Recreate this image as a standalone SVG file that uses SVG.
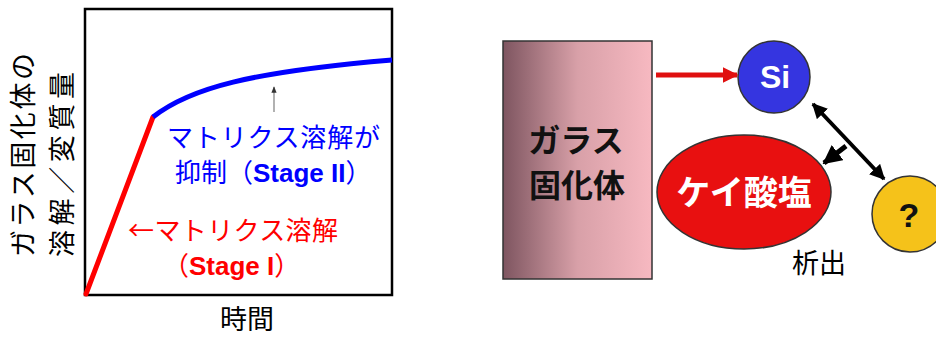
<svg xmlns="http://www.w3.org/2000/svg" width="936" height="338" viewBox="0 0 936 338">
<defs>
<linearGradient id="glassGrad" x1="0" y1="0" x2="1" y2="0">
<stop offset="0" stop-color="#7e5560"/>
<stop offset="0.5" stop-color="#d8a0a8"/>
<stop offset="1" stop-color="#f7b9c1"/>
</linearGradient>
<marker id="redHead" viewBox="0 0 10 10" refX="9" refY="5" markerWidth="3.2" markerHeight="3.2" orient="auto" markerUnits="strokeWidth">
<path d="M0,0 L10,5 L0,10 z" fill="#e01010"/>
</marker>
<marker id="blackHead" viewBox="0 0 10 10" refX="9" refY="5" markerWidth="3.8" markerHeight="3.8" orient="auto-start-reverse" markerUnits="strokeWidth">
<path d="M0,0 L10,5 L0,10 z" fill="#000"/>
</marker>
<marker id="grayHead" viewBox="0 0 10 10" refX="9" refY="5" markerWidth="5" markerHeight="5" orient="auto" markerUnits="strokeWidth">
<path d="M0,1 L10,5 L0,9 z" fill="#333"/>
</marker>
</defs>
<style>
.jp{font-family:"Noto Sans CJK JP","Liberation Sans",sans-serif;}
.lbl{font-size:27px;fill:#000;}
.blue{fill:#0000ff;font-size:26px;}
.red{fill:#ff0000;font-size:26px;}
.bold{font-weight:bold;}
.node{stroke:#333;stroke-width:1.5;}
</style>
<rect width="936" height="338" fill="#fff"/>

<g id="plot">
<rect x="85" y="9" width="307" height="286" fill="none" stroke="#000" stroke-width="2.5"/>
<line x1="86" y1="294" x2="153" y2="117" stroke="#ff0000" stroke-width="5" stroke-linecap="round"/>
<path d="M153,117 C190,88 250,72 392,60" fill="none" stroke="#0000ff" stroke-width="5"/>
<line x1="274" y1="112" x2="274" y2="87" stroke="#888" stroke-width="1.3" marker-end="url(#grayHead)"/>
<text class="jp lbl" transform="translate(33,257) rotate(-90)" font-size="28" textLength="204" lengthAdjust="spacing">ガラス固化体の</text>
<text class="jp lbl" transform="translate(72,257) rotate(-90)" font-size="28" textLength="185" lengthAdjust="spacing">溶解／変質量</text>
<text class="jp blue" x="167" y="147" textLength="213" lengthAdjust="spacing">マトリクス溶解が</text>
<text class="jp blue" x="175" y="182">抑制（<tspan font-family="Liberation Sans" font-weight="bold">Stage II</tspan>）</text>
<text class="jp red" x="128" y="240" textLength="210" lengthAdjust="spacing">←マトリクス溶解</text>
<text class="jp red" x="163" y="275">（<tspan font-family="Liberation Sans" font-weight="bold">Stage I</tspan>）</text>
<text class="jp lbl" x="247" y="329" font-size="26" text-anchor="middle">時間</text>
</g>

<g id="glass">
<rect x="503" y="41" width="149" height="238" fill="url(#glassGrad)" stroke="#333" stroke-width="1.5"/>
<text class="jp bold" x="576" y="152" font-size="32" text-anchor="middle" fill="#111">ガラス</text>
<text class="jp bold" x="577" y="197" font-size="32" text-anchor="middle" fill="#111">固化体</text>
</g>

<g id="si">
<circle class="node" cx="774" cy="77" r="36" fill="#3535e0"/>
<text x="775" y="88" font-family="Liberation Sans, sans-serif" font-weight="bold" font-size="32" fill="#fff" text-anchor="middle">Si</text>
</g>

<g id="silicate">
<ellipse class="node" cx="744" cy="192" rx="87" ry="57" fill="#e81010"/>
<text class="jp bold" x="744" y="205" font-size="34" fill="#fff" text-anchor="middle">ケイ酸塩</text>
</g>

<g id="unknown">
<circle class="node" cx="910" cy="214" r="38" fill="#f5c21a"/>
<text x="909" y="227" font-family="Liberation Sans, sans-serif" font-weight="bold" font-size="34" fill="#111" text-anchor="middle">?</text>
</g>

<g id="label-precip">
<text class="jp lbl" x="792" y="273" font-size="28">析出</text>
</g>

<g id="connectors">
<line x1="656" y1="75" x2="737" y2="75" stroke="#e01010" stroke-width="5" marker-end="url(#redHead)"/>
<line x1="813" y1="104" x2="884" y2="179" stroke="#000" stroke-width="4" marker-start="url(#blackHead)" marker-end="url(#blackHead)"/>
<line x1="846" y1="146" x2="824" y2="163" stroke="#000" stroke-width="5" marker-end="url(#blackHead)"/>
</g>
</svg>
